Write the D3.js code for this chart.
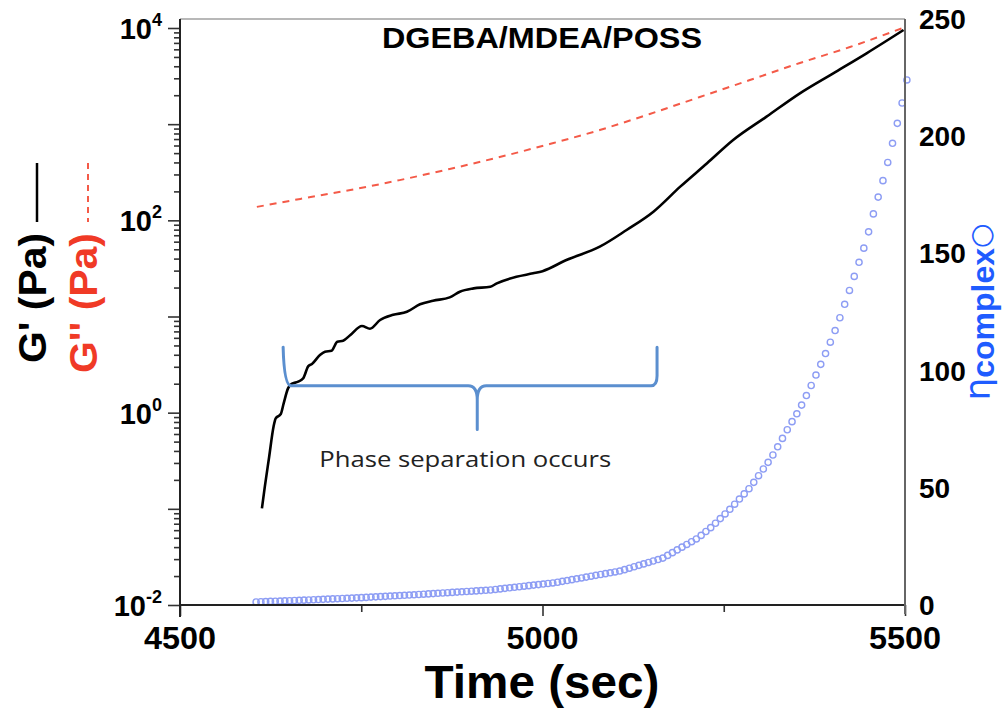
<!DOCTYPE html>
<html>
<head>
<meta charset="utf-8">
<script src="https://cdn.jsdelivr.net/npm/d3@7"></script>
<style>
  body { margin: 0; background: #fff; }
</style>
</head>
<body>
<svg id="chart" width="1005" height="713"></svg>
<script>

// G' (storage modulus), black solid line
const gTime  = [4613, 4617, 4623, 4629, 4632, 4639, 4643, 4649, 4654, 4663, 4670, 4677, 4682, 4693, 4700,
                4709, 4717, 4725, 4735, 4751, 4762, 4776, 4794, 4813, 4831, 4849, 4872, 4886, 4905, 4928,
                4937, 4964, 4987, 5000, 5033, 5079, 5116, 5153, 5190, 5227, 5263, 5309, 5355, 5401, 5447, 5498];
const gPrime = [0.101, 0.170, 0.348, 0.714, 0.873, 0.968, 1.25, 1.79, 1.99, 2.10, 2.28, 3.05, 3.21, 3.98, 4.31,
                4.41, 5.47, 5.60, 6.42, 7.96, 7.46, 9.19, 10.4, 11.2, 13.4, 14.6, 15.8, 18.1, 19.6, 20.4,
                22.1, 25.9, 28.1, 29.6, 38.7, 53.2, 79.3, 123, 224, 392, 684, 1197, 2094, 3381, 5458, 9528];

// G'' (loss modulus), red dashed line
const lossTime = [4606, 4666, 4735, 4803, 4872, 4941, 5010, 5079, 5148, 5217, 5286, 5355, 5424, 5497];
const gLoss    = [138, 167, 207, 262, 342, 455, 622, 869, 1276, 1916, 2877, 4325, 6339, 10000];

// complex viscosity, open circles (right axis)
const etaTime = [4605.0, 4611.6, 4618.2, 4624.8, 4631.4, 4638.0, 4644.6, 4651.2, 4657.8, 4664.4,
                 4671.0, 4677.6, 4684.2, 4690.8, 4697.4, 4704.0, 4710.6, 4717.2, 4723.8, 4730.4,
                 4737.0, 4743.6, 4750.2, 4756.8, 4763.4, 4770.0, 4776.6, 4783.2, 4789.8, 4796.4,
                 4803.0, 4809.6, 4816.2, 4822.8, 4829.4, 4836.0, 4842.6, 4849.2, 4855.8, 4862.4,
                 4869.0, 4875.6, 4882.2, 4888.8, 4895.4, 4902.0, 4908.6, 4915.2, 4921.8, 4928.4,
                 4935.0, 4941.6, 4948.2, 4954.8, 4961.4, 4968.0, 4974.6, 4981.2, 4987.8, 4994.4,
                 5001.0, 5007.6, 5014.2, 5020.8, 5027.4, 5034.0, 5040.6, 5047.2, 5053.8, 5060.4,
                 5067.0, 5073.6, 5080.2, 5086.8, 5093.4, 5100.0, 5106.6, 5113.2, 5119.8, 5126.4,
                 5133.0, 5139.6, 5146.2, 5152.8, 5159.4, 5166.0, 5172.6, 5179.2, 5185.8, 5192.4,
                 5199.0, 5205.6, 5212.2, 5218.8, 5225.4, 5232.0, 5238.6, 5245.2, 5251.8, 5258.4,
                 5265.0, 5271.6, 5278.2, 5284.8, 5291.4, 5298.0, 5304.6, 5311.2, 5317.8, 5324.4,
                 5331.0, 5337.6, 5344.2, 5350.8, 5357.4, 5364.0, 5370.6, 5377.2, 5383.8, 5390.4,
                 5397.0, 5403.6, 5410.2, 5416.8, 5423.4, 5430.0, 5436.6, 5443.2, 5449.8, 5456.4,
                 5463.0, 5469.6, 5476.2, 5482.8, 5489.4, 5496.0, 5502.6];
const etaValues = [1.3, 1.38, 1.45, 1.53, 1.6, 1.68, 1.76, 1.83, 1.91, 1.98,
                   2.07, 2.16, 2.24, 2.33, 2.42, 2.51, 2.6, 2.69, 2.78, 2.86,
                   2.95, 3.04, 3.14, 3.25, 3.36, 3.47, 3.58, 3.69, 3.81, 3.92,
                   4.03, 4.14, 4.25, 4.36, 4.47, 4.6, 4.73, 4.86, 4.99, 5.12,
                   5.24, 5.37, 5.5, 5.63, 5.76, 5.89, 6.02, 6.15, 6.28, 6.41,
                   6.64, 6.87, 7.1, 7.33, 7.56, 7.79, 8.02, 8.25, 8.48, 8.71,
                   8.94, 9.17, 9.4, 9.71, 10.08, 10.44, 10.81, 11.18, 11.54, 11.91,
                   12.28, 12.64, 13.01, 13.38, 13.74, 14.11, 14.48, 15.08, 15.69, 16.31,
                   16.92, 17.54, 18.15, 18.77, 19.38, 20.0, 21.17, 22.34, 23.51, 24.68,
                   25.84, 27.01, 28.18, 29.7, 31.35, 33.0, 34.88, 36.86, 38.84, 40.82,
                   43.0, 45.2, 47.4, 49.6, 52.33, 55.17, 58.02, 60.86, 63.99, 67.49,
                   71.07, 74.76, 78.23, 81.58, 85.29, 89.35, 93.64, 98.1, 102.66, 107.28,
                   112.12, 117.09, 122.55, 128.29, 134.19, 140.18, 146.21, 152.24, 159.2, 166.85,
                   174.02, 181.04, 188.8, 196.97, 205.49, 214.17, 224.0];

const xMajorTicks = [4500, 5000, 5500];
const xMinorTicks = [4750, 5250];
const leftLabelExps = [-2, 0, 2, 4];
const rightTicks = [0, 50, 100, 150, 200, 250];

// bracket annotation, in data units
const bracketFrom = 4645, bracketTo = 5158, bracketMid = 4910;
const bracketLevel = 1.9, bracketArmTop = 4.8, bracketTip = 0.67;


const svg = d3.select("#chart");
const FONT = "'Liberation Sans', Arial, sans-serif";

const x = d3.scaleLinear().domain([4500, 5500]).range([180, 905]);
const yG = d3.scaleLog().domain([1e-2, 1e4]).range([605, 28]);
const yEta = d3.scaleLinear().domain([0, 250]).range([605, 19]);

// ---- frame line on top
svg.append("line")
    .attr("x1", 180).attr("x2", 905).attr("y1", 19).attr("y2", 19)
    .attr("stroke", "#a0a0a0").attr("stroke-width", 1.5);

// ---- ticks
let allTicks = yG.ticks();
let majors = allTicks.filter(v => Math.abs(Math.log10(v) - Math.round(Math.log10(v))) < 1e-9);
let minors = allTicks.filter(v => majors.indexOf(v) < 0);

function tick_group( axis ){
    let g = svg.append("g").call(axis);
    g.select(".domain").remove();
    g.selectAll("line").attr("stroke", "#333").attr("stroke-width", 1.6);
    return g;
}

tick_group( d3.axisLeft(yG).tickValues(majors).tickSize(12).tickFormat("") ).attr("transform", "translate(180,0)");
tick_group( d3.axisLeft(yG).tickValues(minors).tickSize(6).tickFormat("") ).attr("transform", "translate(180,0)");

tick_group( d3.axisBottom(x).tickValues(xMajorTicks).tickSize(11).tickFormat("") ).attr("transform", "translate(0,605)");
tick_group( d3.axisBottom(x).tickValues(xMinorTicks).tickSize(7).tickFormat("") ).attr("transform", "translate(0,605)");

// ---- curves
let lossLine = d3.line()
    .x( d => x(d[0]) )
    .y( d => yG(d[1]) )
    .curve(d3.curveMonotoneX);

svg.append("path")
    .datum( d3.zip(lossTime, gLoss) )
    .attr("d", lossLine)
    .attr("fill", "none")
    .attr("stroke", "#f45a48")
    .attr("stroke-width", 2)
    .attr("stroke-dasharray", "7,6");

svg.append("g").selectAll("circle")
    .data( d3.zip(etaTime, etaValues) )
    .enter().append("circle")
        .attr("cx", d => x(d[0]))
        .attr("cy", d => yEta(d[1]))
        .attr("r", 3.1)
        .attr("fill", "none")
        .attr("stroke", "#8d9df4")
        .attr("stroke-width", 1.4);

let gLine = d3.line()
    .x( d => x(d[0]) )
    .y( d => yG(d[1]) )
    .curve(d3.curveMonotoneX);

svg.append("path")
    .datum( d3.zip(gTime, gPrime) )
    .attr("d", gLine)
    .attr("fill", "none")
    .attr("stroke", "#000")
    .attr("stroke-width", 2.6)
    .attr("stroke-linejoin", "round");

// ---- axis lines drawn over the marks
svg.append("line").attr("x1", 180).attr("x2", 180).attr("y1", 19).attr("y2", 617)
    .attr("stroke", "#222").attr("stroke-width", 2);
svg.append("line").attr("x1", 179).attr("x2", 905).attr("y1", 605).attr("y2", 605)
    .attr("stroke", "#222").attr("stroke-width", 2);
svg.append("line").attr("x1", 905).attr("x2", 905).attr("y1", 19).attr("y2", 614)
    .attr("stroke", "#666").attr("stroke-width", 2);

// ---- bracket annotation
(function(){
    let xl = x(bracketFrom), xr = x(bracketTo), xm = x(bracketMid);
    let yb = yG(bracketLevel), ya = yG(bracketArmTop), ys = yG(bracketTip);
    let p = d3.path();
    p.moveTo(xl - 2, ya);
    p.quadraticCurveTo(xl - 1, yb, xl + 6, yb);
    p.lineTo(xm - 9, yb);
    p.quadraticCurveTo(xm, yb, xm, yb + 14);
    p.lineTo(xm, ys);
    p.moveTo(xm, yb + 14);
    p.quadraticCurveTo(xm, yb, xm + 9, yb);
    p.lineTo(xr - 6, yb);
    p.quadraticCurveTo(xr, yb, xr, yb - 10);
    p.lineTo(xr, ya);
    svg.append("path")
        .attr("d", p.toString())
        .attr("fill", "none")
        .attr("stroke", "#5b8fcf")
        .attr("stroke-width", 3)
        .attr("stroke-linecap", "round");

    svg.append("text")
        .attr("x", xm - 12).attr("y", ys + 38)
        .attr("text-anchor", "middle")
        .attr("font-family", "'Open Sans', 'Noto Sans', sans-serif")
        .attr("font-size", 22)
        .attr("fill", "#222")
        .attr("textLength", 292).attr("lengthAdjust", "spacingAndGlyphs")
        .text("Phase separation occurs");
})();

// ---- tick labels
function add_label( text, tx, ty, size, anchor, len ){
    let t = svg.append("text")
        .attr("x", tx).attr("y", ty)
        .attr("font-family", FONT)
        .attr("font-weight", "bold")
        .attr("font-size", size)
        .attr("text-anchor", anchor)
        .attr("fill", "#000")
        .text(text);
    if( len ) t.attr("textLength", len).attr("lengthAdjust", "spacingAndGlyphs");
    return t;
}

xMajorTicks.forEach( function(v){
    add_label( String(v), x(v), 649, 32, "middle", 72 );
});

rightTicks.forEach( function(v){
    add_label( String(v), 919, yEta(v) + 10, 28, "start", null );
});

leftLabelExps.forEach( function(e){
    let t = svg.append("text")
        .attr("x", 162).attr("y", yG(Math.pow(10, e)) + 11)
        .attr("font-family", FONT)
        .attr("font-weight", "bold")
        .attr("text-anchor", "end");
    t.append("tspan").attr("font-size", 29).text("10");
    t.append("tspan").attr("font-size", 18).attr("dy", -13).text(String(e));
});

// ---- titles
add_label( "DGEBA/MDEA/POSS", 542, 48, 30, "middle", 320 );
add_label( "Time (sec)", 542, 698, 46, "middle", 235 );

// left axis titles (rotated)
svg.append("text")
    .attr("transform", "translate(46,363) rotate(-90)")
    .attr("font-family", FONT).attr("font-weight", "bold").attr("font-size", 38)
    .attr("fill", "#000")
    .attr("textLength", 130).attr("lengthAdjust", "spacingAndGlyphs")
    .text("G' (Pa)");
svg.append("line").attr("x1", 37).attr("x2", 37).attr("y1", 163).attr("y2", 222)
    .attr("stroke", "#000").attr("stroke-width", 2.5);

svg.append("text")
    .attr("transform", "translate(97,373) rotate(-90)")
    .attr("font-family", FONT).attr("font-weight", "bold").attr("font-size", 38)
    .attr("fill", "#f03a26")
    .attr("textLength", 140).attr("lengthAdjust", "spacingAndGlyphs")
    .text("G'' (Pa)");
svg.append("line").attr("x1", 88).attr("x2", 88).attr("y1", 163).attr("y2", 222)
    .attr("stroke", "#f45a48").attr("stroke-width", 2).attr("stroke-dasharray", "6,5");

// right axis title
let rt = svg.append("text")
    .attr("transform", "translate(990,312) rotate(-90)")
    .attr("font-family", FONT).attr("font-weight", "bold")
    .attr("text-anchor", "middle")
    .attr("fill", "#1f5cff");
rt.append("tspan").attr("font-size", 36).attr("font-weight", "normal").attr("font-family", "'DejaVu Sans', sans-serif").text("η");
rt.append("tspan").attr("font-size", 32).attr("dy", 4).text("complex");
rt.append("tspan").attr("font-size", 28).attr("font-weight", "normal").attr("dy", -4).attr("font-family", "'DejaVu Sans', sans-serif").text("○");

</script>
</body>
</html>
